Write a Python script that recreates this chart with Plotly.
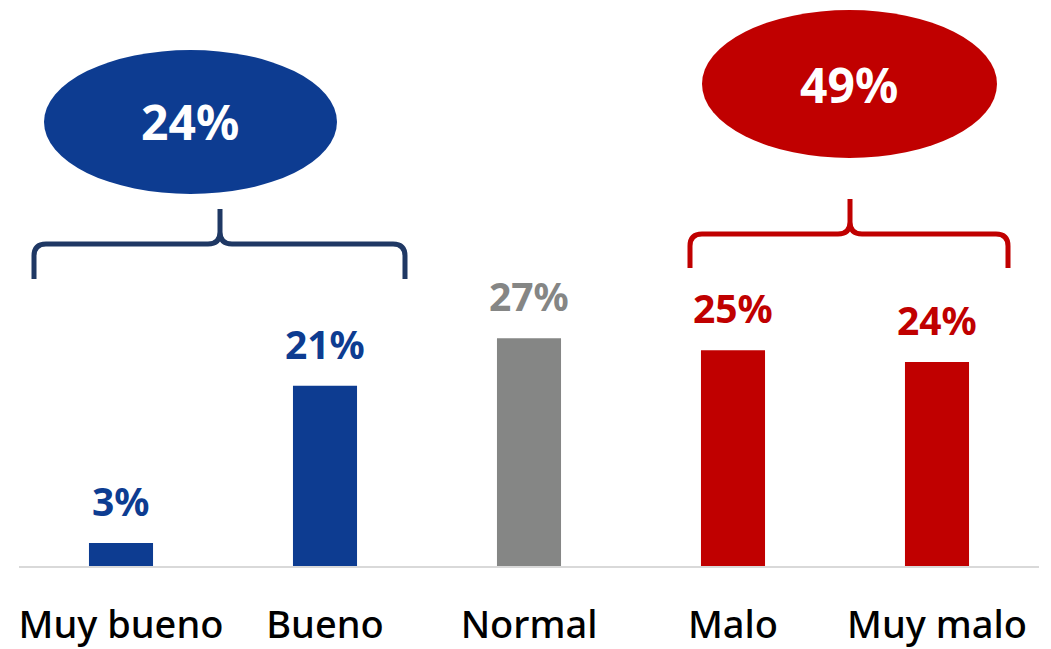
import plotly.graph_objects as go

categories = ["Muy bueno", "Bueno", "Normal", "Malo", "Muy malo"]
values = [2.7, 21.2, 26.8, 25.4, 24.0]
labels = ["3%", "21%", "27%", "25%", "24%"]
bar_colors = ["#0d3c91", "#0d3c91", "#858685", "#c00000", "#c00000"]
group_labels = ["24%", "49%"]

W, H = 1051, 649
L, R, T, B = 19, 12, 0, 83


def px(x):
    return (x - L) / (W - L - R)


def py(y):
    return (H - B - y) / (H - B - T)


def pt(x, y):
    return f"{px(x):.5f},{py(y):.5f}"


def brace(xl, xr, xm, ybar, ybot, ytop, r=12):
    return (
        f"M {pt(xl, ybot)} L {pt(xl, ybar + r)} Q {pt(xl, ybar)} {pt(xl + r, ybar)} "
        f"L {pt(xm - r, ybar)} Q {pt(xm, ybar)} {pt(xm, ybar - r)} L {pt(xm, ytop)} "
        f"M {pt(xm, ybar - r)} Q {pt(xm, ybar)} {pt(xm + r, ybar)} "
        f"L {pt(xr - r, ybar)} Q {pt(xr, ybar)} {pt(xr, ybar + r)} L {pt(xr, ybot)}"
    )


FONT = "Noto Sans"

fig = go.Figure(
    go.Bar(
        x=categories,
        y=values,
        width=0.314,
        marker_color=bar_colors,
        marker_line_width=0,
        hoverinfo="skip",
    )
)

shapes = [
    dict(type="circle", xref="paper", yref="paper",
         x0=px(44), x1=px(337), y0=py(194), y1=py(50),
         fillcolor="#0d3c91", line_width=0),
    dict(type="circle", xref="paper", yref="paper",
         x0=px(702), x1=px(997), y0=py(158), y1=py(10),
         fillcolor="#c00000", line_width=0),
    dict(type="path", xref="paper", yref="paper",
         path=brace(34, 405, 220, 244, 279, 209),
         line=dict(color="#1f3864", width=5)),
    dict(type="path", xref="paper", yref="paper",
         path=brace(690, 1008, 850, 234, 268, 199),
         line=dict(color="#c00000", width=5)),
]

annotations = [
    dict(xref="paper", yref="paper", x=px(190), y=py(122), text=group_labels[0],
         xanchor="center", yanchor="middle", showarrow=False,
         font=dict(family=FONT, size=48, color="white", weight="bold")),
    dict(xref="paper", yref="paper", x=px(849), y=py(84), text=group_labels[1],
         xanchor="center", yanchor="middle", showarrow=False,
         font=dict(family=FONT, size=48, color="white", weight="bold")),
]

# value labels sit a fixed gap above each bar
for cat, val, lab, col in zip(categories, values, labels, bar_colors):
    annotations.append(dict(
        x=cat, y=val, text=lab, showarrow=False,
        xanchor="center", yanchor="bottom", yshift=14,
        font=dict(family=FONT, size=39, color=col, weight="bold"),
    ))

fig.update_layout(
    width=W,
    height=H,
    margin=dict(l=L, r=R, t=T, b=B, autoexpand=False),
    paper_bgcolor="white",
    plot_bgcolor="white",
    showlegend=False,
    shapes=shapes,
    annotations=annotations,
    xaxis=dict(
        showline=True, linecolor="#d9d9d9", linewidth=2,
        showgrid=False, ticks="", automargin=False,
        tickfont=dict(family=FONT, size=38, color="#000000", weight=500),
        ticklabelstandoff=24,
    ),
    yaxis=dict(visible=False, range=[0, 66.6], automargin=False),
)

# drop the default 8px page margin so the figure sits at the window's corner
fig.write_html(
    "out.html",
    config={"displayModeBar": False},
    post_script="document.body.style.margin='0px';",
)
